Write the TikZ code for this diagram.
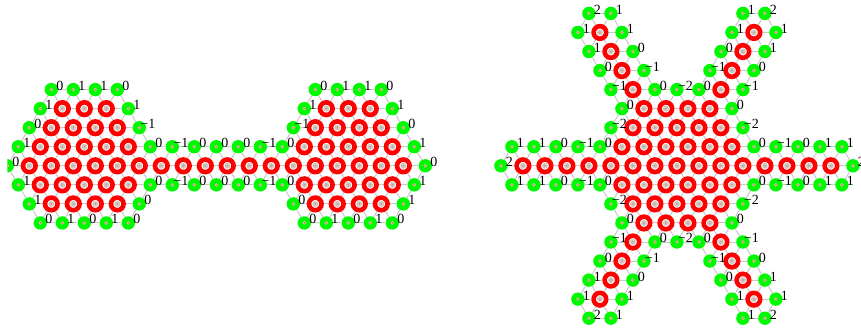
\documentclass[tikz,border=0pt]{standalone}
\usepackage{fontspec}
\setmainfont{Liberation Serif}
\usetikzlibrary{backgrounds}
\definecolor{sitered}{HTML}{FF0000}
\definecolor{sitegreen}{HTML}{00F800}
\definecolor{linkgray}{HTML}{C8C8C8}
\definecolor{coredot}{HTML}{F28A1E}
\tikzset{
  redsite/.style={circle, draw=sitered, line width=4.6pt, fill=white, minimum size=12.6pt,
    inner sep=0pt, path picture={
      \fill[linkgray] (path picture bounding box.center) circle (3pt);
      \fill[coredot] (path picture bounding box.center) circle (0.8pt);}},
  greensite/.style={circle, draw=none, fill=sitegreen, minimum size=13.4pt,
    inner sep=0pt, path picture={
      \fill[linkgray] (path picture bounding box.center) circle (1.9pt);
      \fill[coredot] (path picture bounding box.center) circle (1pt);}},
  link/.style={draw=linkgray, line width=1pt},
  val/.style={font=\fontsize{14pt}{14pt}\selectfont, inner sep=0pt, text=black,
    text height=9.3pt, text depth=0pt, xshift=8.5pt, yshift=3.7pt},
}
% links to the three later neighbours of each site that exists
\newcommand{\latticelinks}[1]{
  \foreach \i in {0,...,38} \foreach \j in {-8,...,8} {
    \ifcsname pgf@sh@ns@#1\i_\j\endcsname
      \pgfmathtruncatemacro{\ia}{\i+2}
      \pgfmathtruncatemacro{\ib}{\i+1}
      \pgfmathtruncatemacro{\ic}{\i-1}
      \pgfmathtruncatemacro{\jb}{\j+1}
      \foreach \u/\v in {\ia/\j,\ib/\jb,\ic/\jb} {
        \ifcsname pgf@sh@ns@#1\u_\v\endcsname
          \draw[link] (#1\i_\j) -- (#1\u_\v);
        \fi
      }
    \fi
  }
}

\begin{document}
\begin{tikzpicture}[x=1pt,y=1pt]
  \useasboundingbox (0,0) rectangle (861,-329);
  % dumbbell
  \begin{scope}
    \clip (7.3,0) rectangle (440,-329);
    \begin{scope}[shift={(7.3pt,-165.8pt)}, x=11pt, y=-19.05pt]
      \foreach \j/\row in {
        -3/{5,7,9,29,31,33},
        -2/{4,6,8,10,28,30,32,34},
        -1/{3,5,7,9,11,27,29,31,33,35},
        0/{2,4,6,8,10,12,14,16,18,20,22,24,26,28,30,32,34,36},
        1/{3,5,7,9,11,27,29,31,33,35},
        2/{4,6,8,10,28,30,32,34}}
        \foreach \i in \row
          \node[redsite] (l\i_\j) at (\i,\j) {};
      \foreach \j/\row in {
        -4/{4/0,6/1,8/1,10/0,28/0,30/1,32/1,34/0},
        -3/{3/1,11/1,27/1,35/1},
        -2/{2/0,12/−1,26/−1,36/0},
        -1/{1/1,13/0,15/−1,17/0,19/0,21/0,23/−1,25/0,37/1},
        0/{0/0,38/0},
        1/{1/1,13/0,15/−1,17/0,19/0,21/0,23/−1,25/0,37/1},
        2/{2/1,12/0,26/0,36/1},
        3/{3/0,5/1,7/0,9/1,11/0,27/0,29/1,31/0,33/1,35/0}}
        \foreach \i/\v in \row {
          \node[greensite] (l\i_\j) at (\i,\j) {};
          \node[val] (lv\i_\j) at (\i,\j) {\v};
        }
      \begin{scope}[on background layer]
        \latticelinks{l}
      \end{scope}
    \end{scope}
  \end{scope}
  % star with six arms
  \begin{scope}[shift={(500.9pt,-165.8pt)}, x=11pt, y=-19.05pt]
    \foreach \j/\row in {
      -7/{9,23}, -6/{10,22}, -5/{11,21}, -4/{12,20},
      -3/{13,15,17,19},
      -2/{12,14,16,18,20},
      -1/{11,13,15,17,19,21},
      0/{2,4,6,8,10,12,14,16,18,20,22,24,26,28,30},
      1/{11,13,15,17,19,21},
      2/{12,14,16,18,20},
      3/{13,15,17,19},
      4/{12,20}, 5/{11,21}, 6/{10,22}, 7/{9,23}}
      \foreach \i in \row
        \node[redsite] (r\i_\j) at (\i,\j) {};
    \foreach \j/\row in {
      -8/{8/2,10/1,22/1,24/2},
      -7/{7/1,11/1,21/1,25/1},
      -6/{8/1,12/0,20/0,24/1},
      -5/{9/0,13/−1,19/−1,23/0},
      -4/{10/−1,14/0,16/−2,18/0,22/−1},
      -3/{11/0,21/0},
      -2/{10/−2,22/−2},
      -1/{1/1,3/1,5/0,7/−1,9/0,23/0,25/−1,27/0,29/1,31/1},
      0/{0/2,32/2},
      1/{1/1,3/1,5/0,7/−1,9/0,23/0,25/−1,27/0,29/1,31/1},
      2/{10/−2,22/−2},
      3/{11/0,21/0},
      4/{10/−1,14/0,16/−2,18/0,22/−1},
      5/{9/0,13/−1,19/−1,23/0},
      6/{8/1,12/0,20/0,24/1},
      7/{7/1,11/1,21/1,25/1},
      8/{8/2,10/1,22/1,24/2}}
      \foreach \i/\v in \row {
        \node[greensite] (r\i_\j) at (\i,\j) {};
        \node[val] (rv\i_\j) at (\i,\j) {\v};
      }
    \begin{scope}[on background layer]
      \latticelinks{r}
    \end{scope}
  \end{scope}
\end{tikzpicture}
\end{document}
